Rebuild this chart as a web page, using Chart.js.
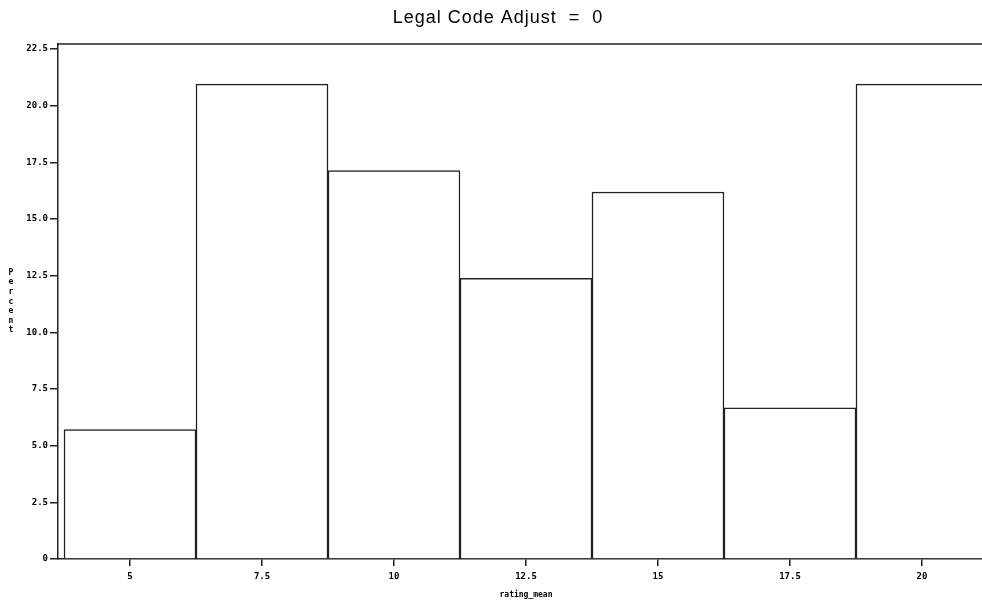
<!DOCTYPE html>
<html>
<head>
<meta charset="utf-8">
<script src="https://cdn.jsdelivr.net/npm/chart.js@4.4.1/dist/chart.umd.min.js"></script>
<style>
  html, body { margin: 0; padding: 0; background: #fff; overflow: hidden; width: 982px; height: 602px; }
  #wrap { position: relative; width: 996px; height: 602px; }
</style>
</head>
<body>
<div id="wrap"><canvas id="c"></canvas></div>
<script>
// ---- data ----
const chartTitle = 'Legal Code Adjust  =  0';
const xTitle = 'rating_mean';
const yTitle = 'Percent';
const binCenters = [5, 7.5, 10, 12.5, 15, 17.5, 20];
const percents = [5.71, 20.95, 17.14, 12.38, 16.19, 6.67, 20.95];
const xTickValues = [5, 7.5, 10, 12.5, 15, 17.5, 20];
const yTickValues = [0, 2.5, 5, 7.5, 10, 12.5, 15, 17.5, 20, 22.5];

const tickFont = { family: 'DejaVu Sans Mono', size: 9, weight: 'bold' };
const lineColor = '#222';

const overlay = {
  id: 'overlay',
  afterDraw(chart) {
    const ctx = chart.ctx;
    const a = chart.chartArea;
    ctx.save();
    // top frame line
    ctx.strokeStyle = lineColor;
    ctx.lineWidth = 1.5;
    ctx.beginPath();
    ctx.moveTo(a.left, a.top);
    ctx.lineTo(a.right, a.top);
    ctx.stroke();
    // chart title
    ctx.fillStyle = '#000';
    ctx.font = '18px "Liberation Sans"';
    ctx.textAlign = 'center';
    ctx.textBaseline = 'middle';
    if ('letterSpacing' in ctx) ctx.letterSpacing = '1px';
    ctx.fillText(chartTitle, 498, 18);
    if ('letterSpacing' in ctx) ctx.letterSpacing = '0px';
    // x title
    ctx.font = 'bold 8px "DejaVu Sans Mono"';
    ctx.fillText(xTitle, (a.left + a.right) / 2, 595);
    // y title: stacked letters
    const letters = yTitle.split('');
    const step = 9.6;
    const midY = (a.top + a.bottom) / 2;
    const startY = midY - step * (letters.length - 1) / 2;
    letters.forEach((ch, i) => ctx.fillText(ch, 11, startY + i * step));
    ctx.restore();
  }
};

new Chart(document.getElementById('c'), {
  type: 'bar',
  data: {
    datasets: [{
      data: binCenters.map((x, i) => ({ x: x, y: percents[i] })),
      backgroundColor: '#fff',
      borderColor: lineColor,
      borderWidth: 1.5,
      borderSkipped: 'bottom',
      barPercentage: 1,
      categoryPercentage: 1
    }]
  },
  options: {
    responsive: true,
    maintainAspectRatio: false,
    animation: false,
    devicePixelRatio: 1,
    layout: { padding: { top: 44, right: 2, left: 0, bottom: 0 } },
    plugins: { legend: { display: false }, tooltip: { enabled: false }, title: { display: false } },
    scales: {
      x: {
        type: 'linear',
        offset: false,
        min: 3.636,
        max: 21.364,
        afterBuildTicks: s => { s.ticks = xTickValues.map(v => ({ value: v })); },
        afterFit: s => { s.height = 43; },
        ticks: {
          font: tickFont, color: '#000', padding: 5, maxRotation: 0, autoSkip: false,
          callback: v => String(v)
        },
        grid: { offset: false, drawOnChartArea: false, drawTicks: true, tickLength: 7, color: lineColor, lineWidth: 1.5 },
        border: { display: true, color: lineColor, width: 1.5 }
      },
      y: {
        min: 0,
        max: 22.72,
        afterBuildTicks: s => { s.ticks = yTickValues.map(v => ({ value: v })); },
        afterFit: s => { s.width = 58; },
        ticks: {
          font: tickFont, color: '#000', padding: 2, autoSkip: false,
          callback: v => v === 0 ? '0' : Number(v).toFixed(1)
        },
        grid: { drawOnChartArea: false, drawTicks: true, tickLength: 8, color: lineColor, lineWidth: 1.5 },
        border: { display: true, color: lineColor, width: 1.5 }
      }
    }
  },
  plugins: [overlay]
});
</script>
</body>
</html>
